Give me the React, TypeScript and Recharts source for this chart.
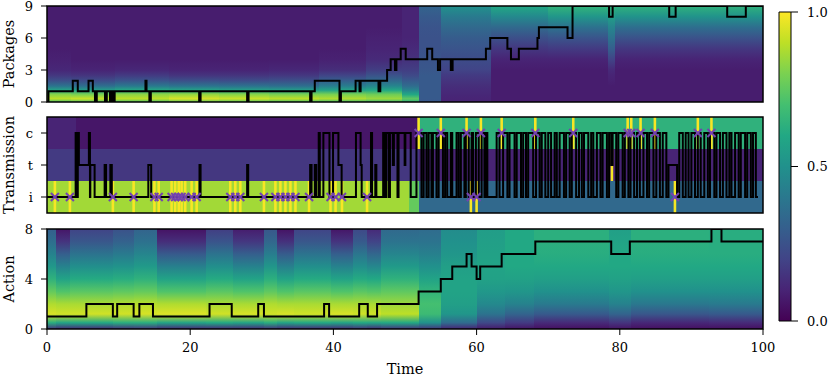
import React from "react";
import { ComposedChart, Line, Scatter, XAxis, YAxis, ReferenceArea } from "recharts";

const FONT = "DejaVu Serif";

// shared time axis
const timeTicks = [0, 20, 40, 60, 80, 100];

// ---- Packages panel ----
const packTicks = [0, 3, 6, 9];
const packSteps: [number, number][] = [
  [0, 0], [0.2, 1], [3.6, 2], [4.3, 1], [5.8, 2], [6.4, 1], [6.7, 0], [6.95, 1], [8.1, 0], [8.35, 1],
  [8.8, 0], [9.0, 1], [9.25, 0], [9.45, 1], [13.75, 2], [13.9, 1], [14.3, 0], [14.5, 1], [21.25, 0],
  [21.45, 1], [27.95, 0], [28.15, 1], [36.75, 0], [36.95, 1], [37.4, 2], [40.85, 0], [41.05, 1],
  [43.1, 2], [43.65, 1], [43.8, 2], [46.3, 1], [46.55, 2], [47.5, 3], [48.0, 4], [48.6, 3], [48.8, 4],
  [49.4, 5], [50.1, 4], [53.1, 5], [53.8, 4], [54.6, 3], [54.9, 4], [56.4, 3], [56.65, 4], [61.3, 5],
  [61.9, 6], [64.3, 5], [64.8, 4], [65.9, 5], [68.5, 6], [68.7, 7], [72.7, 6], [73.4, 9], [78.5, 8],
  [79.0, 9], [86.9, 8], [87.8, 9], [95.0, 8], [97.6, 9], [100, 9],
];
const packLevels = [0, 0.3, 0.7, 1.1, 1.5, 2, 2.5, 3, 4, 5, 6, 7, 8, 9];
const packEdges = [0, 3.3, 9.5, 17, 24, 31, 38, 44.5, 49.6, 52, 55, 62, 70, 78.4, 79.3, 100];
const packHeat = [
  [0.7, 0.9, 0.82, 0.58, 0.38, 0.24, 0.16, 0.11, 0.09, 0.08, 0.08, 0.08, 0.08, 0.08],
  [0.72, 0.92, 0.8, 0.55, 0.36, 0.23, 0.15, 0.1, 0.08, 0.08, 0.08, 0.08, 0.08, 0.08],
  [0.7, 0.9, 0.83, 0.6, 0.4, 0.26, 0.17, 0.11, 0.08, 0.08, 0.08, 0.08, 0.08, 0.08],
  [0.74, 0.94, 0.84, 0.58, 0.38, 0.24, 0.15, 0.1, 0.08, 0.08, 0.08, 0.08, 0.08, 0.08],
  [0.72, 0.92, 0.82, 0.56, 0.37, 0.23, 0.15, 0.1, 0.08, 0.08, 0.08, 0.08, 0.08, 0.08],
  [0.7, 0.9, 0.8, 0.55, 0.36, 0.24, 0.16, 0.11, 0.08, 0.08, 0.08, 0.08, 0.08, 0.08],
  [0.68, 0.88, 0.8, 0.58, 0.42, 0.3, 0.2, 0.13, 0.09, 0.08, 0.08, 0.08, 0.08, 0.08],
  [0.66, 0.85, 0.78, 0.6, 0.45, 0.34, 0.25, 0.18, 0.12, 0.1, 0.09, 0.08, 0.08, 0.08],
  [0.62, 0.75, 0.6, 0.45, 0.35, 0.28, 0.22, 0.18, 0.14, 0.12, 0.1, 0.1, 0.1, 0.1],
  [0.27, 0.28, 0.28, 0.28, 0.28, 0.28, 0.28, 0.27, 0.26, 0.25, 0.25, 0.26, 0.28, 0.32],
  [0.1, 0.1, 0.11, 0.12, 0.13, 0.15, 0.17, 0.2, 0.23, 0.26, 0.29, 0.34, 0.41, 0.5],
  [0.08, 0.08, 0.08, 0.08, 0.08, 0.08, 0.08, 0.08, 0.1, 0.16, 0.24, 0.34, 0.47, 0.6],
  [0.08, 0.08, 0.08, 0.08, 0.08, 0.08, 0.08, 0.08, 0.1, 0.17, 0.26, 0.37, 0.52, 0.65],
  [0.08, 0.08, 0.08, 0.08, 0.08, 0.09, 0.1, 0.12, 0.2, 0.3, 0.38, 0.45, 0.55, 0.65],
  [0.08, 0.08, 0.08, 0.08, 0.08, 0.08, 0.08, 0.08, 0.1, 0.16, 0.25, 0.36, 0.51, 0.64],
];

// ---- Transmission panel ----
const transNames = ["i", "t", "c"];
const transSteps: [number, number][] = [
  [0, 0], [4.0, 2], [4.15, 0], [4.3, 2], [4.45, 1], [5.85, 2], [6.0, 0], [6.05, 1], [6.65, 0], [8.05, 1],
  [8.25, 0], [8.85, 1], [9.05, 0], [14.15, 1], [14.55, 0], [21.3, 1], [21.45, 0], [27.95, 1], [28.1, 0],
  [36.75, 1], [36.95, 0], [37.4, 1], [37.6, 0], [37.95, 2], [38.1, 0], [38.6, 2], [39.45, 0], [39.95, 2],
  [40.7, 1], [41.15, 0], [43.15, 2], [43.8, 1], [43.95, 0], [45.25, 2], [45.4, 0], [45.85, 1], [46.0, 0],
  [46.95, 2], [47.15, 0], [47.4, 2], [47.75, 0], [47.9, 2], [48.3, 1], [48.45, 2], [48.95, 0], [49.1, 2],
  [49.95, 1], [50.05, 2], [50.8, 0], [51.6, 2],
  [52.3, 0], [52.6, 2], [53.0, 0], [53.3, 2], [53.7, 0], [53.9, 2], [54.4, 0], [54.7, 2], [55.3, 0],
  [55.6, 2], [55.9, 0], [56.4, 2], [56.6, 0], [57.2, 2], [57.5, 0], [57.8, 2], [58.3, 0], [58.5, 2],
  [58.9, 0], [59.3, 2], [59.5, 0], [59.9, 2], [60.3, 0], [60.7, 2], [61.1, 0], [61.3, 2], [61.5, 0],
  [62.8, 2], [63.2, 0], [63.7, 2], [64.3, 0], [64.6, 2], [65.3, 0], [65.6, 2], [66.2, 0], [66.5, 2],
  [66.9, 0], [67.2, 2], [67.9, 0], [68.3, 2], [68.8, 0], [69.1, 2], [69.6, 0], [70.0, 2], [70.4, 0],
  [70.9, 2], [71.2, 0], [71.6, 2], [72.2, 0], [72.5, 2], [73.0, 0], [73.3, 2], [73.9, 0], [74.3, 2],
  [74.7, 0], [75.0, 2], [75.6, 0], [76.0, 2], [76.3, 0], [76.8, 2], [77.3, 0], [77.6, 2], [78.2, 0],
  [78.5, 2], [78.8, 1], [79.0, 2], [79.5, 0], [79.8, 2], [80.4, 0], [80.7, 2], [81.2, 0], [81.5, 2],
  [82.0, 0], [82.4, 2], [82.8, 0], [83.3, 2], [83.8, 0], [84.1, 2], [84.7, 0], [85.1, 2], [85.6, 0],
  [86.0, 2], [86.5, 0], [86.8, 1], [88.0, 0], [88.3, 2], [88.8, 0], [89.2, 2], [89.6, 0], [90.0, 2],
  [90.5, 0], [90.9, 2], [91.3, 0], [91.8, 2], [92.3, 0], [92.6, 2], [93.2, 0], [93.5, 2], [94.0, 0],
  [94.4, 2], [94.9, 0], [95.3, 2], [95.6, 0], [96.1, 2], [96.6, 0], [96.9, 2], [97.5, 0], [97.8, 2],
  [98.3, 0], [98.6, 2], [99.0, 0], [99.3, 0],
];
const transEdges = [0, 4, 50.6, 52, 100];
// rows: i, t, c
const transHeat = [
  [0.86, 0.17, 0.1],
  [0.86, 0.16, 0.06],
  [0.76, 0.16, 0.06],
  [0.34, 0.1, 0.64],
];
const crossesI = [
  1.1, 3.2, 9.2, 12.1, 15.0, 15.6, 17.4, 17.9, 18.4, 18.8, 19.3, 20.2, 20.9, 25.6, 26.3, 27.0, 30.3,
  31.9, 32.6, 33.3, 34.0, 34.7, 36.6, 39.6, 40.3, 41.2, 44.7, 59.2, 60.0, 87.7,
];
const crossesC = [51.9, 55.0, 58.6, 60.6, 63.5, 68.2, 73.5, 81.1, 81.6, 82.9, 84.9, 90.9, 92.8];
const extraStripes: [number, number][] = [[78.9, 1]];

// ---- Action panel ----
const actionTicks = [0, 4, 8];
const actionSteps: [number, number][] = [
  [0, 1], [5.5, 2], [9.2, 1], [9.8, 2], [12.1, 1], [12.9, 2], [14.8, 1], [22.7, 2], [25.8, 1], [29.5, 2],
  [30.3, 1], [38.7, 2], [39.4, 1], [43.6, 2], [44.8, 1], [46.1, 2], [51.9, 3], [55.0, 4], [56.6, 5],
  [58.6, 6], [59.3, 5], [60.0, 4], [60.5, 5], [63.5, 6], [68.2, 7], [78.8, 6], [81.4, 7], [92.8, 8],
  [94.2, 7], [100, 7],
];
const actLevels = [0, 0.5, 1.2, 2, 3, 4, 5, 6, 7, 8];
const actEdges = [0, 1.2, 3.2, 9.2, 12.1, 15.3, 22.2, 26, 30.3, 32.1, 34.5, 39.6, 42.8, 44.7, 46.6, 52, 55, 60, 64, 68, 78.5, 81.5, 92.5, 100];
const actHeat = [
  [0.15, 0.62, 0.94, 0.88, 0.76, 0.64, 0.53, 0.44, 0.36, 0.3],
  [0.12, 0.58, 0.93, 0.87, 0.72, 0.58, 0.44, 0.3, 0.15, 0.06],
  [0.12, 0.6, 0.93, 0.87, 0.74, 0.61, 0.49, 0.38, 0.27, 0.2],
  [0.14, 0.62, 0.93, 0.88, 0.75, 0.62, 0.51, 0.41, 0.31, 0.25],
  [0.15, 0.62, 0.94, 0.89, 0.76, 0.64, 0.54, 0.45, 0.37, 0.32],
  [0.12, 0.58, 0.95, 0.88, 0.72, 0.58, 0.43, 0.28, 0.13, 0.05],
  [0.12, 0.6, 0.93, 0.87, 0.74, 0.61, 0.49, 0.38, 0.26, 0.18],
  [0.12, 0.58, 0.94, 0.87, 0.72, 0.58, 0.44, 0.3, 0.16, 0.08],
  [0.14, 0.62, 0.93, 0.88, 0.75, 0.63, 0.52, 0.42, 0.33, 0.27],
  [0.12, 0.58, 0.94, 0.87, 0.72, 0.58, 0.43, 0.29, 0.14, 0.05],
  [0.12, 0.6, 0.93, 0.87, 0.74, 0.61, 0.49, 0.38, 0.27, 0.2],
  [0.12, 0.58, 0.94, 0.87, 0.72, 0.58, 0.44, 0.3, 0.15, 0.06],
  [0.14, 0.6, 0.93, 0.87, 0.74, 0.61, 0.49, 0.39, 0.28, 0.22],
  [0.12, 0.59, 0.93, 0.87, 0.73, 0.6, 0.46, 0.33, 0.2, 0.12],
  [0.15, 0.6, 0.9, 0.85, 0.75, 0.64, 0.54, 0.45, 0.38, 0.34],
  [0.15, 0.5, 0.68, 0.7, 0.65, 0.58, 0.5, 0.43, 0.38, 0.35],
  [0.1, 0.35, 0.52, 0.56, 0.58, 0.58, 0.56, 0.52, 0.5, 0.48],
  [0.07, 0.22, 0.38, 0.47, 0.53, 0.57, 0.58, 0.57, 0.56, 0.55],
  [0.05, 0.17, 0.32, 0.44, 0.52, 0.57, 0.6, 0.6, 0.6, 0.6],
  [0.04, 0.12, 0.28, 0.41, 0.5, 0.56, 0.6, 0.62, 0.63, 0.63],
  [0.05, 0.15, 0.32, 0.44, 0.52, 0.57, 0.6, 0.6, 0.58, 0.56],
  [0.04, 0.11, 0.27, 0.4, 0.5, 0.56, 0.6, 0.62, 0.63, 0.63],
  [0.04, 0.12, 0.28, 0.41, 0.5, 0.56, 0.6, 0.62, 0.62, 0.62],
];

// colorbar
const cbarTicks = [0, 0.5, 1];
const cbarRange = [{ x: 0, y: 0 }, { x: 1, y: 1 }];

// viridis colormap
const VIRIDIS = ["#440154", "#482475", "#414487", "#355f8d", "#2a788e", "#21918c", "#22a884", "#44bf70", "#7ad151", "#bddf26", "#fde725"];
const hexRgb = (h: string) => [1, 3, 5].map((k) => parseInt(h.slice(k, k + 2), 16));
function viridis(v: number) {
  const x = Math.max(0, Math.min(1, v)) * 10;
  const i = Math.min(9, Math.floor(x));
  const f = x - i;
  const a = hexRgb(VIRIDIS[i]);
  const b = hexRgb(VIRIDIS[i + 1]);
  const c = a.map((p, k) => Math.round(p + (b[k] - p) * f));
  return `rgb(${c[0]},${c[1]},${c[2]})`;
}

const W = 829;
const PLOT_R = 763;
const MARK = "#7442b0";
const tickStyle = { fill: "#000", fontSize: 13, fontFamily: FONT };
const labelStyle = { textAnchor: "middle" as const, fontSize: 14.5, fontFamily: FONT, fill: "#000" };

const toPoints = (steps: [number, number][]) => steps.map(([t, v]) => ({ t, v }));

const Cross = (props: any) => {
  const { cx, cy } = props;
  const s = 4;
  return (
    <path
      d={`M${cx - s},${cy - s}L${cx + s},${cy + s}M${cx - s},${cy + s}L${cx + s},${cy - s}`}
      stroke={MARK}
      strokeWidth={2}
      fill="none"
    />
  );
};

function gradientDefs(prefix: string, levels: number[], heat: number[][], top: number) {
  return (
    <defs>
      {heat.map((col, i) => (
        <linearGradient key={i} id={`${prefix}${i}`} x1="0" y1="1" x2="0" y2="0">
          {col.map((v, j) => (
            <stop key={j} offset={levels[j] / top} stopColor={viridis(v)} />
          ))}
        </linearGradient>
      ))}
    </defs>
  );
}

function gradientCells(prefix: string, edges: number[], heat: number[][], top: number) {
  return heat.map((_, i) => (
    <ReferenceArea
      key={`${prefix}-c${i}`}
      x1={edges[i]}
      x2={edges[i + 1]}
      y1={0}
      y2={top}
      fill={`url(#${prefix}${i})`}
      fillOpacity={1}
      stroke="none"
      shapeRendering="crispEdges"
      ifOverflow="hidden"
    />
  ));
}

function frame(y1: number, y2: number) {
  return <ReferenceArea x1={0} x2={100} y1={y1} y2={y2} fill="none" stroke="#000" strokeWidth={1.5} ifOverflow="visible" zIndex={900} />;
}

export default function App() {
  const margin = (top: number, bottom: number) => ({ top, right: W - PLOT_R, bottom, left: 0 });

  const transCells: React.ReactNode[] = [];
  transHeat.forEach((col, i) =>
    col.forEach((v, r) =>
      transCells.push(
        <ReferenceArea
          key={`tr-${i}-${r}`}
          x1={transEdges[i]}
          x2={transEdges[i + 1]}
          y1={r - 0.5}
          y2={r + 0.5}
          fill={viridis(v)}
          fillOpacity={1}
          stroke="none"
          shapeRendering="crispEdges"
          ifOverflow="hidden"
        />
      )
    )
  );
  const stripes: [number, number][] = [
    ...crossesI.map((t) => [t, 0] as [number, number]),
    ...crossesC.map((t) => [t, 2] as [number, number]),
    ...extraStripes,
  ];
  stripes.forEach(([t, r], k) =>
    transCells.push(
      <ReferenceArea
        key={`st-${k}`}
        x1={t - 0.18}
        x2={t + 0.18}
        y1={r - 0.5}
        y2={r + 0.5}
        fill={viridis(0.99)}
        fillOpacity={1}
        stroke="none"
        ifOverflow="hidden"
      />
    )
  );
  const crossPoints = [
    ...crossesI.map((t) => ({ t, v: 0 })),
    ...crossesC.map((t) => ({ t, v: 2 })),
  ];

  return (
    <div style={{ position: "absolute", left: 0, top: 0, width: W, height: 378, background: "#fff", fontFamily: FONT }}>
      {/* Packages */}
      <div style={{ position: "absolute", left: 0, top: 0 }}>
        <ComposedChart width={W} height={112} data={toPoints(packSteps)} margin={margin(6, 10)}>
          {gradientDefs("pk", packLevels, packHeat, 9)}
          <XAxis dataKey="t" type="number" domain={[0, 100]} ticks={timeTicks} hide allowDataOverflow />
          <YAxis
            type="number"
            domain={[0, 9]}
            ticks={packTicks}
            width={47}
            axisLine={false}
            tickLine={{ stroke: "#000" }}
            tickSize={6}
            tickMargin={8}
            tick={tickStyle}
            interval={0}
            allowDataOverflow
            label={{ value: "Packages", angle: -90, position: "insideLeft", offset: 9, style: labelStyle }}
          />
          {gradientCells("pk", packEdges, packHeat, 9)}
          <Line type="stepAfter" dataKey="v" stroke="#000" strokeWidth={2} dot={false} isAnimationActive={false} />
          {frame(0, 9)}
        </ComposedChart>
      </div>

      {/* Transmission */}
      <div style={{ position: "absolute", left: 0, top: 105 }}>
        <ComposedChart width={W} height={118} data={toPoints(transSteps)} margin={margin(12, 10)}>
          <XAxis dataKey="t" type="number" domain={[0, 100]} ticks={timeTicks} hide allowDataOverflow />
          <YAxis
            type="number"
            domain={[-0.5, 2.5]}
            ticks={[0, 1, 2]}
            tickFormatter={(v: number) => transNames[v]}
            width={47}
            axisLine={false}
            tickLine={{ stroke: "#000" }}
            tickSize={6}
            tickMargin={8}
            tick={tickStyle}
            interval={0}
            allowDataOverflow
            label={{ value: "Transmission", angle: -90, position: "insideLeft", offset: 9, style: labelStyle }}
          />
          {transCells}
          <Line type="stepAfter" dataKey="v" stroke="#000" strokeWidth={2} dot={false} isAnimationActive={false} />
          <Scatter data={crossPoints} dataKey="v" shape={Cross} isAnimationActive={false} />
          {frame(-0.5, 2.5)}
        </ComposedChart>
      </div>

      {/* Action */}
      <div style={{ position: "absolute", left: 0, top: 215 }}>
        <ComposedChart width={W} height={163} data={toPoints(actionSteps)} margin={margin(14, 0)}>
          {gradientDefs("ac", actLevels, actHeat, 8)}
          <XAxis
            dataKey="t"
            type="number"
            domain={[0, 100]}
            ticks={timeTicks}
            height={49}
            axisLine={false}
            tickLine={{ stroke: "#000" }}
            tickSize={6}
            tickMargin={8}
            tick={tickStyle}
            interval={0}
            allowDataOverflow
            label={{ value: "Time", position: "insideBottom", offset: 4, style: labelStyle }}
          />
          <YAxis
            type="number"
            domain={[0, 8]}
            ticks={actionTicks}
            width={47}
            axisLine={false}
            tickLine={{ stroke: "#000" }}
            tickSize={6}
            tickMargin={8}
            tick={tickStyle}
            interval={0}
            allowDataOverflow
            label={{ value: "Action", angle: -90, position: "insideLeft", offset: 9, style: labelStyle }}
          />
          {gradientCells("ac", actEdges, actHeat, 8)}
          <Line type="stepAfter" dataKey="v" stroke="#000" strokeWidth={2} dot={false} isAnimationActive={false} />
          {frame(0, 8)}
        </ComposedChart>
      </div>

      {/* Colorbar */}
      <div style={{ position: "absolute", left: 770, top: 0 }}>
        <ComposedChart width={59} height={330} data={cbarRange} margin={{ top: 12, right: 0, bottom: 9, left: 9 }}>
          <defs>
            <linearGradient id="cbar" x1="0" y1="1" x2="0" y2="0">
              {VIRIDIS.map((c, i) => (
                <stop key={i} offset={i / 10} stopColor={c} />
              ))}
            </linearGradient>
          </defs>
          <XAxis dataKey="x" type="number" domain={[0, 1]} hide />
          <YAxis
            orientation="right"
            type="number"
            domain={[0, 1]}
            ticks={cbarTicks}
            tickFormatter={(v: number) => v.toFixed(1)}
            width={38}
            axisLine={false}
            tickLine={{ stroke: "#000" }}
            tickSize={7}
            tickMargin={9}
            tick={tickStyle}
            interval={0}
          />
          <ReferenceArea x1={0} x2={1} y1={0} y2={1} fill="url(#cbar)" fillOpacity={1} stroke="#000" strokeWidth={1} ifOverflow="visible" />
          <Line dataKey="y" stroke="none" dot={false} activeDot={false} isAnimationActive={false} />
        </ComposedChart>
      </div>
    </div>
  );
}
